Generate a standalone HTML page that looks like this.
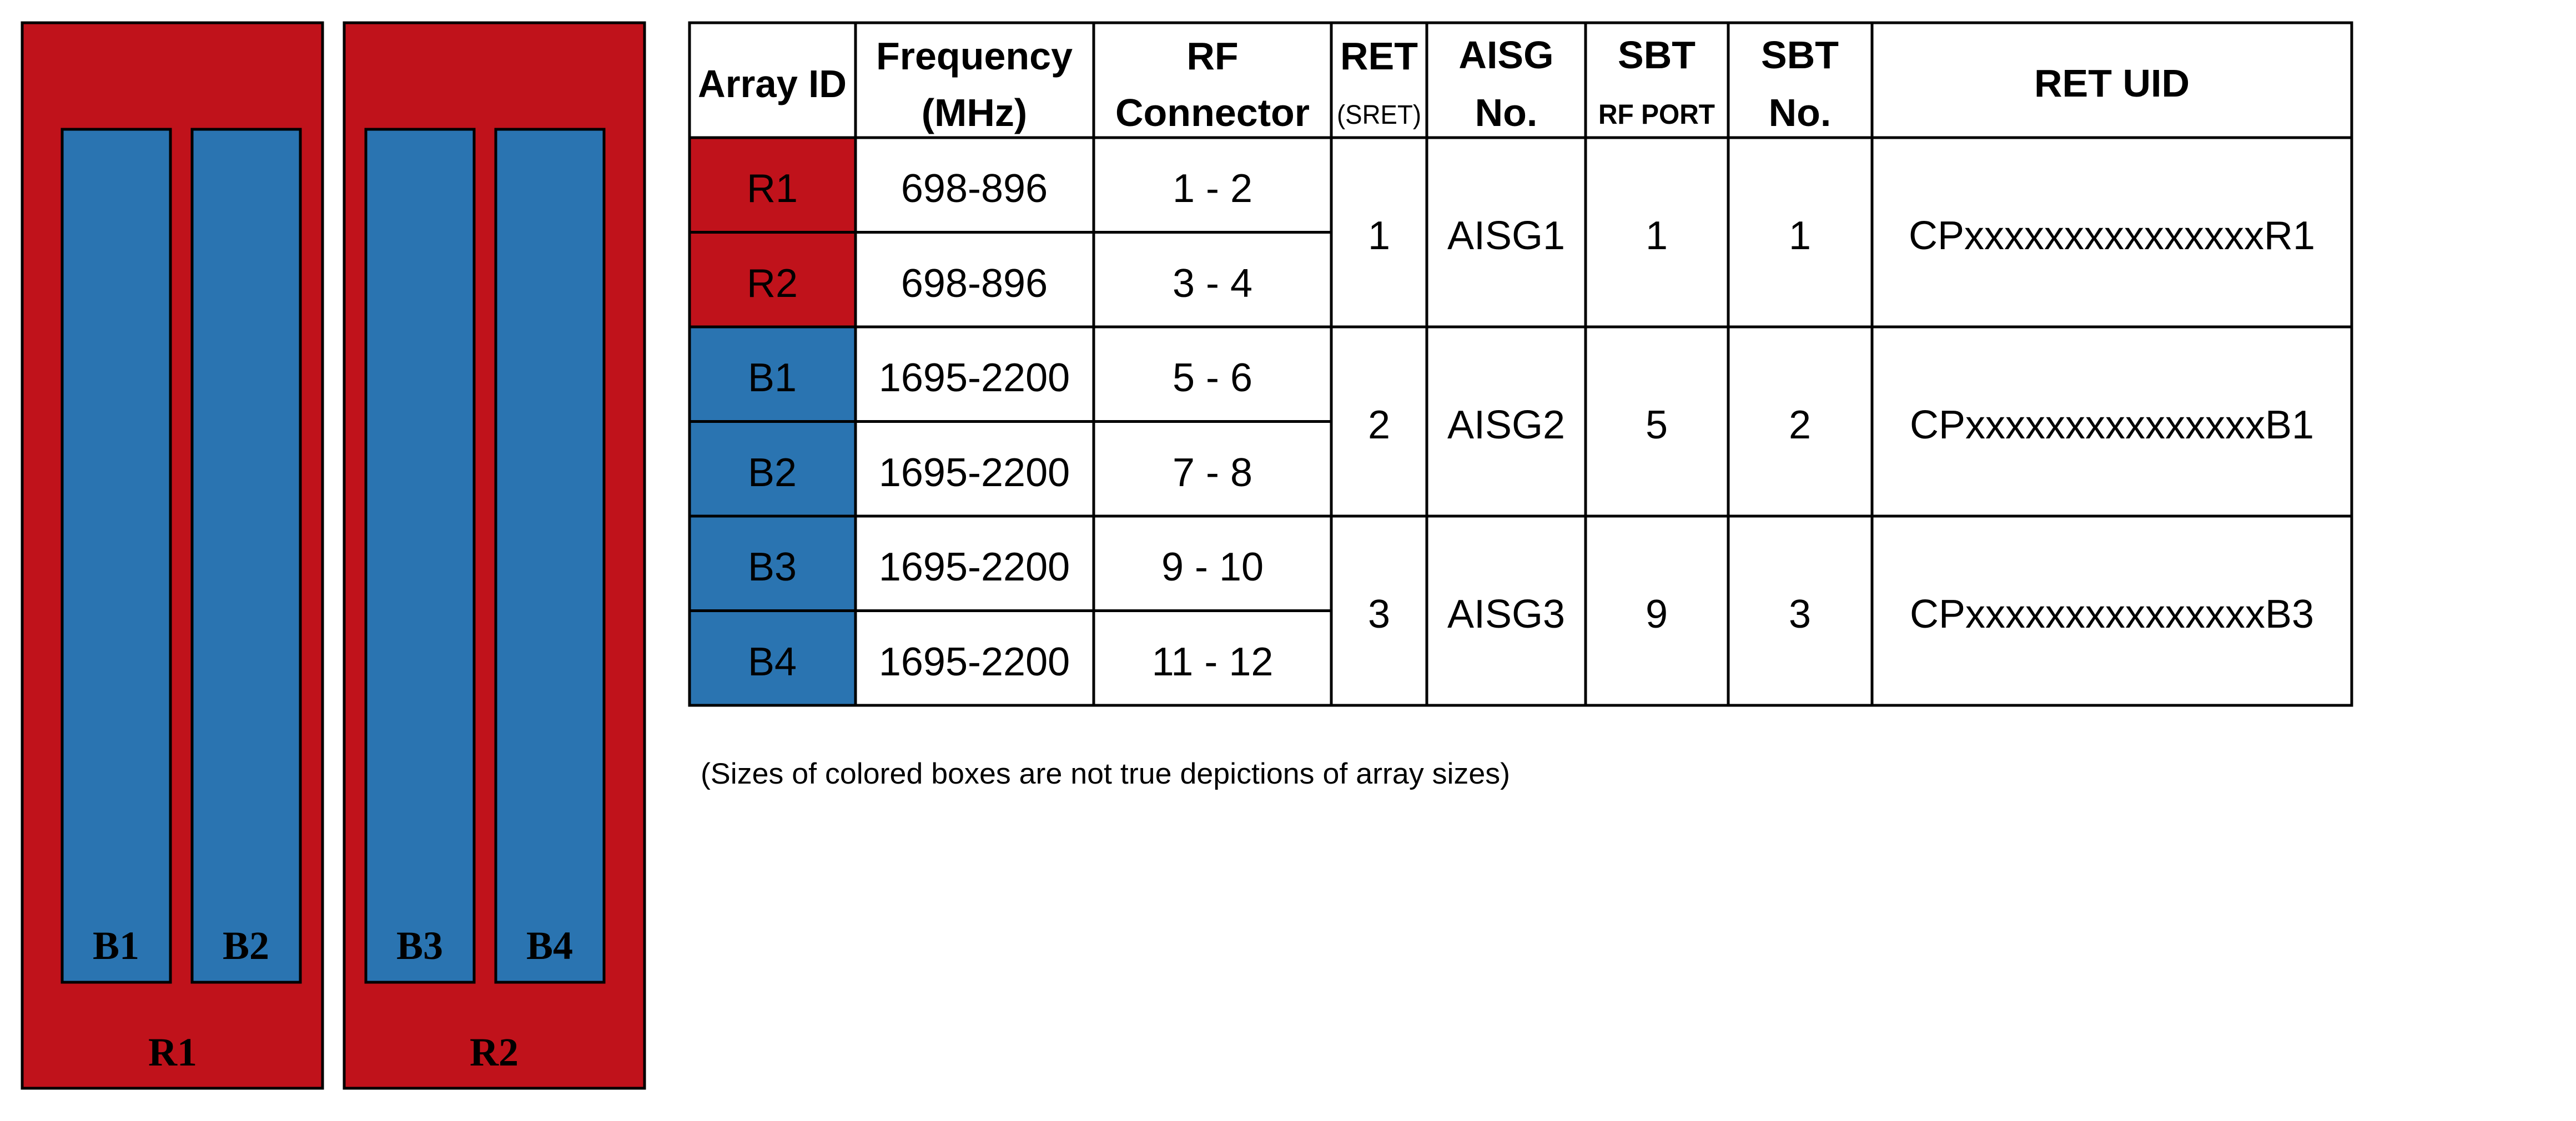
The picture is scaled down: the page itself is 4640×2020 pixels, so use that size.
<!DOCTYPE html>
<html><head><meta charset="utf-8"><style>
html,body{margin:0;padding:0;background:#fff;width:4640px;height:2020px;overflow:hidden}
svg{display:block}
.h{font-family:"Liberation Sans",sans-serif;font-weight:bold;font-size:70px;text-anchor:middle}
.hs{font-family:"Liberation Sans",sans-serif;font-size:48px;text-anchor:middle}
.hb{font-family:"Liberation Sans",sans-serif;font-weight:bold;font-size:50px;text-anchor:middle}
.t{font-family:"Liberation Sans",sans-serif;font-size:72px;text-anchor:middle}
.d{font-family:"Liberation Serif",serif;font-weight:bold;font-size:72px;text-anchor:middle}
</style></head><body>
<svg width="4640" height="2020" xmlns="http://www.w3.org/2000/svg">
<g stroke="#000" stroke-width="5">
<rect x="40" y="41" width="541" height="1920" fill="#C0121B"/>
<rect x="620" y="41" width="541" height="1920" fill="#C0121B"/>
<rect x="112" y="233" width="195" height="1537" fill="#2A74B1"/>
<rect x="346" y="233" width="195" height="1537" fill="#2A74B1"/>
<rect x="659" y="233" width="195" height="1537" fill="#2A74B1"/>
<rect x="893" y="233" width="195" height="1537" fill="#2A74B1"/>
</g>
<text class="d" x="209" y="1728">B1</text>
<text class="d" x="443" y="1728">B2</text>
<text class="d" x="756" y="1728">B3</text>
<text class="d" x="990" y="1728">B4</text>
<text class="d" x="311" y="1920">R1</text>
<text class="d" x="890" y="1920">R2</text>
<rect x="1242" y="248" width="299" height="341" fill="#C0121B"/>
<rect x="1242" y="589" width="299" height="682" fill="#2A74B1"/>
<g stroke="#000" stroke-width="5" fill="none">
<rect x="1242" y="41" width="2994" height="1230"/>
<line x1="1541" y1="41" x2="1541" y2="1271"/>
<line x1="1970" y1="41" x2="1970" y2="1271"/>
<line x1="2398" y1="41" x2="2398" y2="1271"/>
<line x1="2570" y1="41" x2="2570" y2="1271"/>
<line x1="2856" y1="41" x2="2856" y2="1271"/>
<line x1="3113" y1="41" x2="3113" y2="1271"/>
<line x1="3372" y1="41" x2="3372" y2="1271"/>
<line x1="1242" y1="248" x2="4236" y2="248"/>
<line x1="1242" y1="589" x2="4236" y2="589"/>
<line x1="1242" y1="930" x2="4236" y2="930"/>
<line x1="1242" y1="418.5" x2="2398" y2="418.5"/>
<line x1="1242" y1="759.5" x2="2398" y2="759.5"/>
<line x1="1242" y1="1100.5" x2="2398" y2="1100.5"/>
</g>
<text class="h" x="1391" y="175" textLength="268" lengthAdjust="spacingAndGlyphs">Array ID</text>
<text class="h" x="1755" y="125">Frequency</text>
<text class="h" x="1755" y="227">(MHz)</text>
<text class="h" x="2184" y="125">RF</text>
<text class="h" x="2184" y="227">Connector</text>
<text class="h" x="2484" y="125">RET</text>
<text class="hs" x="2484" y="223" textLength="152" lengthAdjust="spacingAndGlyphs">(SRET)</text>
<text class="h" x="2713" y="123">AISG</text>
<text class="h" x="2713" y="227">No.</text>
<text class="h" x="2984" y="123">SBT</text>
<text class="hb" x="2984" y="223" textLength="210" lengthAdjust="spacingAndGlyphs">RF PORT</text>
<text class="h" x="3242" y="123">SBT</text>
<text class="h" x="3242" y="227">No.</text>
<text class="h" x="3804" y="174">RET UID</text>
<text class="t" x="1391" y="364">R1</text><text class="t" x="1755" y="364">698-896</text><text class="t" x="2184" y="364">1 - 2</text>
<text class="t" x="1391" y="535">R2</text><text class="t" x="1755" y="535">698-896</text><text class="t" x="2184" y="535">3 - 4</text>
<text class="t" x="1391" y="705">B1</text><text class="t" x="1755" y="705">1695-2200</text><text class="t" x="2184" y="705">5 - 6</text>
<text class="t" x="1391" y="876">B2</text><text class="t" x="1755" y="876">1695-2200</text><text class="t" x="2184" y="876">7 - 8</text>
<text class="t" x="1391" y="1046">B3</text><text class="t" x="1755" y="1046">1695-2200</text><text class="t" x="2184" y="1046">9 - 10</text>
<text class="t" x="1391" y="1217">B4</text><text class="t" x="1755" y="1217">1695-2200</text><text class="t" x="2184" y="1217">11 - 12</text>
<text class="t" x="2484" y="449">1</text><text class="t" x="2713" y="449">AISG1</text><text class="t" x="2984" y="449">1</text><text class="t" x="3242" y="449">1</text><text class="t" x="3804" y="449">CPxxxxxxxxxxxxxxxR1</text>
<text class="t" x="2484" y="790">2</text><text class="t" x="2713" y="790">AISG2</text><text class="t" x="2984" y="790">5</text><text class="t" x="3242" y="790">2</text><text class="t" x="3804" y="790">CPxxxxxxxxxxxxxxxB1</text>
<text class="t" x="2484" y="1131">3</text><text class="t" x="2713" y="1131">AISG3</text><text class="t" x="2984" y="1131">9</text><text class="t" x="3242" y="1131">3</text><text class="t" x="3804" y="1131">CPxxxxxxxxxxxxxxxB3</text>
<text x="1262" y="1412" font-family="Liberation Sans, sans-serif" font-size="53" textLength="1458" lengthAdjust="spacingAndGlyphs">(Sizes of colored boxes are not true depictions of array sizes)</text>
</svg>
</body></html>
